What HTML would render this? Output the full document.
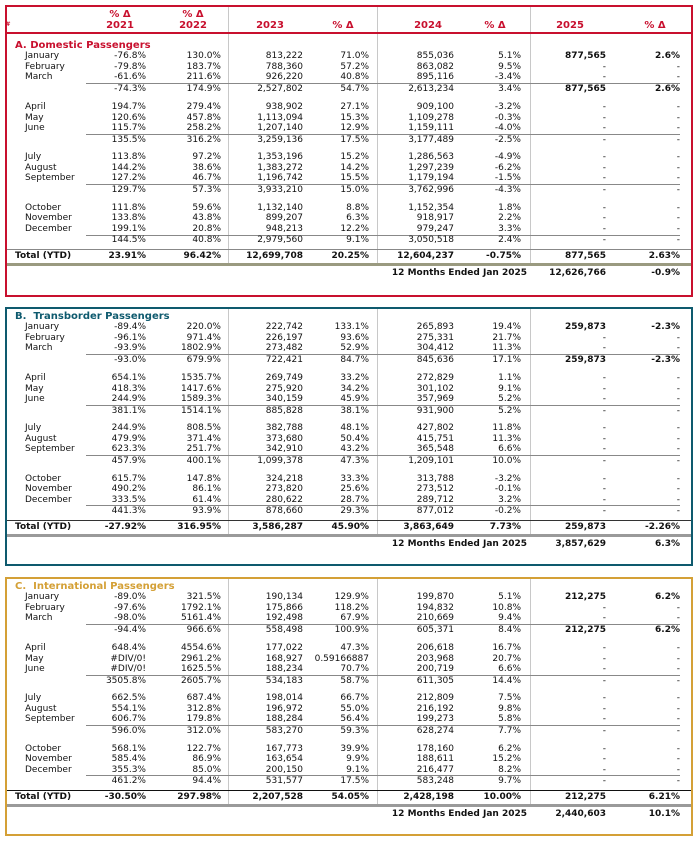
<!DOCTYPE html>
<html><head><meta charset="utf-8"><style>
body{margin:0;width:699px;height:842px;position:relative;background:#fff;font-family:"DejaVu Sans",Verdana,sans-serif;font-size:9px;color:#111;overflow:hidden}
.box{position:absolute;left:5px;width:684px;border:2px solid}
.v{position:absolute;width:1px;background:#c8c8c8}
.h{position:absolute}
.r{position:absolute;left:0;width:699px;height:11px;line-height:11px}
.r span{position:absolute;white-space:nowrap}
.a{left:25px}.b{right:553px}.c{right:478px}.d{right:396px}.e{right:330px}.f{right:245px}.g{right:178px}.i{right:93px}.j{right:19px}
.t{left:15px;font-weight:bold;font-size:10px}
.B{font-weight:bold}
.tot span{font-weight:bold}
.hd{position:absolute;font-weight:bold;color:#c8102e;font-size:10px;text-align:center;width:80px}
</style></head><body>

<!-- boxes -->
<div class="box" style="top:5px;height:288px;border-color:#c8102e"></div>
<div class="box" style="top:307px;height:255px;border-color:#0e5a6e"></div>
<div class="box" style="top:577px;height:255px;border-color:#d4a036"></div>

<!-- vertical separators -->
<div class="v" style="left:228px;top:7px;height:257px"></div>
<div class="v" style="left:377px;top:7px;height:257px"></div>
<div class="v" style="left:530px;top:7px;height:257px"></div>
<div class="v" style="left:228px;top:309px;height:226px"></div>
<div class="v" style="left:377px;top:309px;height:226px"></div>
<div class="v" style="left:530px;top:309px;height:226px"></div>
<div class="v" style="left:228px;top:579px;height:226px"></div>
<div class="v" style="left:377px;top:579px;height:226px"></div>
<div class="v" style="left:530px;top:579px;height:226px"></div>

<!-- header A -->
<div class="hd" style="left:80px;top:9px">% Δ</div>
<div class="hd" style="left:80px;top:20px">2021</div>
<div class="hd" style="left:153px;top:9px">% Δ</div>
<div class="hd" style="left:153px;top:20px">2022</div>
<div class="hd" style="left:230px;top:20px">2023</div>
<div class="hd" style="left:303px;top:20px">% Δ</div>
<div class="hd" style="left:388px;top:20px">2024</div>
<div class="hd" style="left:455px;top:20px">% Δ</div>
<div class="hd" style="left:530px;top:20px">2025</div>
<div class="hd" style="left:615px;top:20px">% Δ</div>
<div class="hd" style="left:-32px;top:21px;font-size:6px">#</div>
<div class="h" style="left:7px;top:32px;width:684px;height:2px;background:#c8102e"></div>

<!-- lines A -->
<div class="h" style="left:86px;top:83px;width:594px;height:1px;background:#888"></div>
<div class="h" style="left:86px;top:134px;width:594px;height:1px;background:#888"></div>
<div class="h" style="left:86px;top:184px;width:594px;height:1px;background:#888"></div>
<div class="h" style="left:86px;top:235px;width:594px;height:1px;background:#888"></div>
<div class="h" style="left:7px;top:249px;width:684px;height:1px;background:#888"></div>
<div class="h" style="left:7px;top:263px;width:684px;height:3px;background:#9a9a80"></div>
<!-- lines B -->
<div class="h" style="left:86px;top:354px;width:594px;height:1px;background:#888"></div>
<div class="h" style="left:86px;top:405px;width:594px;height:1px;background:#888"></div>
<div class="h" style="left:86px;top:455px;width:594px;height:1px;background:#888"></div>
<div class="h" style="left:86px;top:505px;width:594px;height:1px;background:#888"></div>
<div class="h" style="left:7px;top:520px;width:684px;height:1px;background:#333"></div>
<div class="h" style="left:7px;top:534px;width:684px;height:3px;background:#9a9a9a"></div>
<!-- lines C -->
<div class="h" style="left:86px;top:624px;width:594px;height:1px;background:#888"></div>
<div class="h" style="left:86px;top:675px;width:594px;height:1px;background:#888"></div>
<div class="h" style="left:86px;top:725px;width:594px;height:1px;background:#888"></div>
<div class="h" style="left:86px;top:775px;width:594px;height:1px;background:#888"></div>
<div class="h" style="left:7px;top:790px;width:684px;height:1px;background:#111"></div>
<div class="h" style="left:7px;top:804px;width:684px;height:3px;background:#9a9a9a"></div>

<!-- SECTION A -->
<div class="r" style="top:40px"><span class="t" style="color:#c8102e">A. Domestic Passengers</span></div>
<div class="r" style="top:51px"><span class="a">January</span><span class="b">-76.8%</span><span class="c">130.0%</span><span class="d">813,222</span><span class="e">71.0%</span><span class="f">855,036</span><span class="g">5.1%</span><span class="i B">877,565</span><span class="j B">2.6%</span></div>
<div class="r" style="top:62px"><span class="a">February</span><span class="b">-79.8%</span><span class="c">183.7%</span><span class="d">788,360</span><span class="e">57.2%</span><span class="f">863,082</span><span class="g">9.5%</span><span class="i">-</span><span class="j">-</span></div>
<div class="r" style="top:72px"><span class="a">March</span><span class="b">-61.6%</span><span class="c">211.6%</span><span class="d">926,220</span><span class="e">40.8%</span><span class="f">895,116</span><span class="g">-3.4%</span><span class="i">-</span><span class="j">-</span></div>
<div class="r" style="top:84px"><span class="b">-74.3%</span><span class="c">174.9%</span><span class="d">2,527,802</span><span class="e">54.7%</span><span class="f">2,613,234</span><span class="g">3.4%</span><span class="i B">877,565</span><span class="j B">2.6%</span></div>
<div class="r" style="top:102px"><span class="a">April</span><span class="b">194.7%</span><span class="c">279.4%</span><span class="d">938,902</span><span class="e">27.1%</span><span class="f">909,100</span><span class="g">-3.2%</span><span class="i">-</span><span class="j">-</span></div>
<div class="r" style="top:113px"><span class="a">May</span><span class="b">120.6%</span><span class="c">457.8%</span><span class="d">1,113,094</span><span class="e">15.3%</span><span class="f">1,109,278</span><span class="g">-0.3%</span><span class="i">-</span><span class="j">-</span></div>
<div class="r" style="top:123px"><span class="a">June</span><span class="b">115.7%</span><span class="c">258.2%</span><span class="d">1,207,140</span><span class="e">12.9%</span><span class="f">1,159,111</span><span class="g">-4.0%</span><span class="i">-</span><span class="j">-</span></div>
<div class="r" style="top:135px"><span class="b">135.5%</span><span class="c">316.2%</span><span class="d">3,259,136</span><span class="e">17.5%</span><span class="f">3,177,489</span><span class="g">-2.5%</span><span class="i">-</span><span class="j">-</span></div>
<div class="r" style="top:152px"><span class="a">July</span><span class="b">113.8%</span><span class="c">97.2%</span><span class="d">1,353,196</span><span class="e">15.2%</span><span class="f">1,286,563</span><span class="g">-4.9%</span><span class="i">-</span><span class="j">-</span></div>
<div class="r" style="top:163px"><span class="a">August</span><span class="b">144.2%</span><span class="c">38.6%</span><span class="d">1,383,272</span><span class="e">14.2%</span><span class="f">1,297,239</span><span class="g">-6.2%</span><span class="i">-</span><span class="j">-</span></div>
<div class="r" style="top:173px"><span class="a">September</span><span class="b">127.2%</span><span class="c">46.7%</span><span class="d">1,196,742</span><span class="e">15.5%</span><span class="f">1,179,194</span><span class="g">-1.5%</span><span class="i">-</span><span class="j">-</span></div>
<div class="r" style="top:185px"><span class="b">129.7%</span><span class="c">57.3%</span><span class="d">3,933,210</span><span class="e">15.0%</span><span class="f">3,762,996</span><span class="g">-4.3%</span><span class="i">-</span><span class="j">-</span></div>
<div class="r" style="top:203px"><span class="a">October</span><span class="b">111.8%</span><span class="c">59.6%</span><span class="d">1,132,140</span><span class="e">8.8%</span><span class="f">1,152,354</span><span class="g">1.8%</span><span class="i">-</span><span class="j">-</span></div>
<div class="r" style="top:213px"><span class="a">November</span><span class="b">133.8%</span><span class="c">43.8%</span><span class="d">899,207</span><span class="e">6.3%</span><span class="f">918,917</span><span class="g">2.2%</span><span class="i">-</span><span class="j">-</span></div>
<div class="r" style="top:224px"><span class="a">December</span><span class="b">199.1%</span><span class="c">20.8%</span><span class="d">948,213</span><span class="e">12.2%</span><span class="f">979,247</span><span class="g">3.3%</span><span class="i">-</span><span class="j">-</span></div>
<div class="r" style="top:235px"><span class="b">144.5%</span><span class="c">40.8%</span><span class="d">2,979,560</span><span class="e">9.1%</span><span class="f">3,050,518</span><span class="g">2.4%</span><span class="i">-</span><span class="j">-</span></div>
<div class="r tot" style="top:251px"><span style="left:15px">Total (YTD)</span><span class="b">23.91%</span><span class="c">96.42%</span><span class="d">12,699,708</span><span class="e">20.25%</span><span class="f">12,604,237</span><span class="g">-0.75%</span><span class="i">877,565</span><span class="j">2.63%</span></div>
<div class="r tot" style="top:268px"><span style="right:172px">12 Months Ended Jan 2025</span><span class="i">12,626,766</span><span class="j">-0.9%</span></div>

<!-- SECTION B -->
<div class="r" style="top:311px"><span class="t" style="color:#0e5a6e">B.&nbsp; Transborder Passengers</span></div>
<div class="r" style="top:322px"><span class="a">January</span><span class="b">-89.4%</span><span class="c">220.0%</span><span class="d">222,742</span><span class="e">133.1%</span><span class="f">265,893</span><span class="g">19.4%</span><span class="i B">259,873</span><span class="j B">-2.3%</span></div>
<div class="r" style="top:333px"><span class="a">February</span><span class="b">-96.1%</span><span class="c">971.4%</span><span class="d">226,197</span><span class="e">93.6%</span><span class="f">275,331</span><span class="g">21.7%</span><span class="i">-</span><span class="j">-</span></div>
<div class="r" style="top:343px"><span class="a">March</span><span class="b">-93.9%</span><span class="c">1802.9%</span><span class="d">273,482</span><span class="e">52.9%</span><span class="f">304,412</span><span class="g">11.3%</span><span class="i">-</span><span class="j">-</span></div>
<div class="r" style="top:355px"><span class="b">-93.0%</span><span class="c">679.9%</span><span class="d">722,421</span><span class="e">84.7%</span><span class="f">845,636</span><span class="g">17.1%</span><span class="i B">259,873</span><span class="j B">-2.3%</span></div>
<div class="r" style="top:373px"><span class="a">April</span><span class="b">654.1%</span><span class="c">1535.7%</span><span class="d">269,749</span><span class="e">33.2%</span><span class="f">272,829</span><span class="g">1.1%</span><span class="i">-</span><span class="j">-</span></div>
<div class="r" style="top:384px"><span class="a">May</span><span class="b">418.3%</span><span class="c">1417.6%</span><span class="d">275,920</span><span class="e">34.2%</span><span class="f">301,102</span><span class="g">9.1%</span><span class="i">-</span><span class="j">-</span></div>
<div class="r" style="top:394px"><span class="a">June</span><span class="b">244.9%</span><span class="c">1589.3%</span><span class="d">340,159</span><span class="e">45.9%</span><span class="f">357,969</span><span class="g">5.2%</span><span class="i">-</span><span class="j">-</span></div>
<div class="r" style="top:406px"><span class="b">381.1%</span><span class="c">1514.1%</span><span class="d">885,828</span><span class="e">38.1%</span><span class="f">931,900</span><span class="g">5.2%</span><span class="i">-</span><span class="j">-</span></div>
<div class="r" style="top:423px"><span class="a">July</span><span class="b">244.9%</span><span class="c">808.5%</span><span class="d">382,788</span><span class="e">48.1%</span><span class="f">427,802</span><span class="g">11.8%</span><span class="i">-</span><span class="j">-</span></div>
<div class="r" style="top:434px"><span class="a">August</span><span class="b">479.9%</span><span class="c">371.4%</span><span class="d">373,680</span><span class="e">50.4%</span><span class="f">415,751</span><span class="g">11.3%</span><span class="i">-</span><span class="j">-</span></div>
<div class="r" style="top:444px"><span class="a">September</span><span class="b">623.3%</span><span class="c">251.7%</span><span class="d">342,910</span><span class="e">43.2%</span><span class="f">365,548</span><span class="g">6.6%</span><span class="i">-</span><span class="j">-</span></div>
<div class="r" style="top:456px"><span class="b">457.9%</span><span class="c">400.1%</span><span class="d">1,099,378</span><span class="e">47.3%</span><span class="f">1,209,101</span><span class="g">10.0%</span><span class="i">-</span><span class="j">-</span></div>
<div class="r" style="top:474px"><span class="a">October</span><span class="b">615.7%</span><span class="c">147.8%</span><span class="d">324,218</span><span class="e">33.3%</span><span class="f">313,788</span><span class="g">-3.2%</span><span class="i">-</span><span class="j">-</span></div>
<div class="r" style="top:484px"><span class="a">November</span><span class="b">490.2%</span><span class="c">86.1%</span><span class="d">273,820</span><span class="e">25.6%</span><span class="f">273,512</span><span class="g">-0.1%</span><span class="i">-</span><span class="j">-</span></div>
<div class="r" style="top:495px"><span class="a">December</span><span class="b">333.5%</span><span class="c">61.4%</span><span class="d">280,622</span><span class="e">28.7%</span><span class="f">289,712</span><span class="g">3.2%</span><span class="i">-</span><span class="j">-</span></div>
<div class="r" style="top:506px"><span class="b">441.3%</span><span class="c">93.9%</span><span class="d">878,660</span><span class="e">29.3%</span><span class="f">877,012</span><span class="g">-0.2%</span><span class="i">-</span><span class="j">-</span></div>
<div class="r tot" style="top:522px"><span style="left:15px">Total (YTD)</span><span class="b">-27.92%</span><span class="c">316.95%</span><span class="d">3,586,287</span><span class="e">45.90%</span><span class="f">3,863,649</span><span class="g">7.73%</span><span class="i">259,873</span><span class="j">-2.26%</span></div>
<div class="r tot" style="top:539px"><span style="right:172px">12 Months Ended Jan 2025</span><span class="i">3,857,629</span><span class="j">6.3%</span></div>

<!-- SECTION C -->
<div class="r" style="top:581px"><span class="t" style="color:#d4a036">C.&nbsp; International Passengers</span></div>
<div class="r" style="top:592px"><span class="a">January</span><span class="b">-89.0%</span><span class="c">321.5%</span><span class="d">190,134</span><span class="e">129.9%</span><span class="f">199,870</span><span class="g">5.1%</span><span class="i B">212,275</span><span class="j B">6.2%</span></div>
<div class="r" style="top:603px"><span class="a">February</span><span class="b">-97.6%</span><span class="c">1792.1%</span><span class="d">175,866</span><span class="e">118.2%</span><span class="f">194,832</span><span class="g">10.8%</span><span class="i">-</span><span class="j">-</span></div>
<div class="r" style="top:613px"><span class="a">March</span><span class="b">-98.0%</span><span class="c">5161.4%</span><span class="d">192,498</span><span class="e">67.9%</span><span class="f">210,669</span><span class="g">9.4%</span><span class="i">-</span><span class="j">-</span></div>
<div class="r" style="top:625px"><span class="b">-94.4%</span><span class="c">966.6%</span><span class="d">558,498</span><span class="e">100.9%</span><span class="f">605,371</span><span class="g">8.4%</span><span class="i B">212,275</span><span class="j B">6.2%</span></div>
<div class="r" style="top:643px"><span class="a">April</span><span class="b">648.4%</span><span class="c">4554.6%</span><span class="d">177,022</span><span class="e">47.3%</span><span class="f">206,618</span><span class="g">16.7%</span><span class="i">-</span><span class="j">-</span></div>
<div class="r" style="top:654px"><span class="a">May</span><span class="b">#DIV/0!</span><span class="c">2961.2%</span><span class="d">168,927</span><span class="e">0.59166887</span><span class="f">203,968</span><span class="g">20.7%</span><span class="i">-</span><span class="j">-</span></div>
<div class="r" style="top:664px"><span class="a">June</span><span class="b">#DIV/0!</span><span class="c">1625.5%</span><span class="d">188,234</span><span class="e">70.7%</span><span class="f">200,719</span><span class="g">6.6%</span><span class="i">-</span><span class="j">-</span></div>
<div class="r" style="top:676px"><span class="b">3505.8%</span><span class="c">2605.7%</span><span class="d">534,183</span><span class="e">58.7%</span><span class="f">611,305</span><span class="g">14.4%</span><span class="i">-</span><span class="j">-</span></div>
<div class="r" style="top:693px"><span class="a">July</span><span class="b">662.5%</span><span class="c">687.4%</span><span class="d">198,014</span><span class="e">66.7%</span><span class="f">212,809</span><span class="g">7.5%</span><span class="i">-</span><span class="j">-</span></div>
<div class="r" style="top:704px"><span class="a">August</span><span class="b">554.1%</span><span class="c">312.8%</span><span class="d">196,972</span><span class="e">55.0%</span><span class="f">216,192</span><span class="g">9.8%</span><span class="i">-</span><span class="j">-</span></div>
<div class="r" style="top:714px"><span class="a">September</span><span class="b">606.7%</span><span class="c">179.8%</span><span class="d">188,284</span><span class="e">56.4%</span><span class="f">199,273</span><span class="g">5.8%</span><span class="i">-</span><span class="j">-</span></div>
<div class="r" style="top:726px"><span class="b">596.0%</span><span class="c">312.0%</span><span class="d">583,270</span><span class="e">59.3%</span><span class="f">628,274</span><span class="g">7.7%</span><span class="i">-</span><span class="j">-</span></div>
<div class="r" style="top:744px"><span class="a">October</span><span class="b">568.1%</span><span class="c">122.7%</span><span class="d">167,773</span><span class="e">39.9%</span><span class="f">178,160</span><span class="g">6.2%</span><span class="i">-</span><span class="j">-</span></div>
<div class="r" style="top:754px"><span class="a">November</span><span class="b">585.4%</span><span class="c">86.9%</span><span class="d">163,654</span><span class="e">9.9%</span><span class="f">188,611</span><span class="g">15.2%</span><span class="i">-</span><span class="j">-</span></div>
<div class="r" style="top:765px"><span class="a">December</span><span class="b">355.3%</span><span class="c">85.0%</span><span class="d">200,150</span><span class="e">9.1%</span><span class="f">216,477</span><span class="g">8.2%</span><span class="i">-</span><span class="j">-</span></div>
<div class="r" style="top:776px"><span class="b">461.2%</span><span class="c">94.4%</span><span class="d">531,577</span><span class="e">17.5%</span><span class="f">583,248</span><span class="g">9.7%</span><span class="i">-</span><span class="j">-</span></div>
<div class="r tot" style="top:792px"><span style="left:15px">Total (YTD)</span><span class="b">-30.50%</span><span class="c">297.98%</span><span class="d">2,207,528</span><span class="e">54.05%</span><span class="f">2,428,198</span><span class="g">10.00%</span><span class="i">212,275</span><span class="j">6.21%</span></div>
<div class="r tot" style="top:809px"><span style="right:172px">12 Months Ended Jan 2025</span><span class="i">2,440,603</span><span class="j">10.1%</span></div>

</body></html>
